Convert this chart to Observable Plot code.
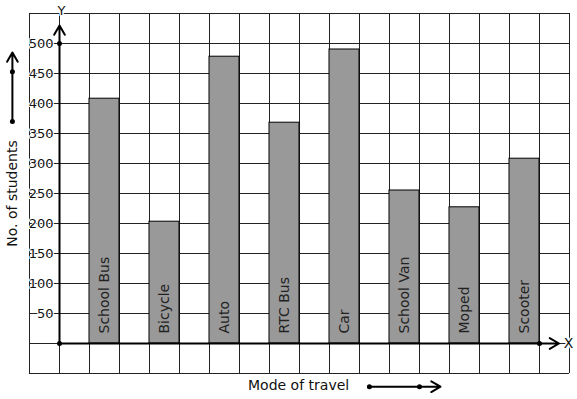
<!DOCTYPE html>
<html>
<head>
<meta charset="utf-8">
<script src="https://cdn.jsdelivr.net/npm/d3@7"></script>
<script src="https://cdn.jsdelivr.net/npm/@observablehq/plot@0.6"></script>
<style>
  html, body { margin: 0; padding: 0; background: #fff; }
  #chart svg { display: block; }
</style>
</head>
<body>
<div id="chart"></div>
<script>
const categories = ["School Bus", "Bicycle", "Auto", "RTC Bus", "Car", "School Van", "Moped", "Scooter"];
const students = [408, 203, 478, 368, 490, 255, 227, 308];
const yTicks = [50, 100, 150, 200, 250, 300, 350, 400, 450, 500];
const yTitle = "No. of students";
const xTitle = "Mode of travel";

const data = categories.map((name, i) => ({name, value: students[i], slot: 2 * i + 1}));
const gridX = d3.range(-1, 18);
const gridY = d3.range(-50, 551, 50);
const font = "DejaVu Sans, sans-serif";

const chart = Plot.plot({
  width: 577,
  height: 399,
  marginTop: 13,
  marginBottom: 26,
  marginLeft: 29,
  marginRight: 8,
  style: {fontFamily: font, background: "#fff"},
  x: {type: "linear", domain: [-1, 17], axis: null},
  y: {type: "linear", domain: [-50, 550], axis: null},
  marks: [
    Plot.ruleX(gridX, {stroke: "#222", strokeWidth: 1, strokeOpacity: 1}),
    Plot.ruleY(gridY, {stroke: "#222", strokeWidth: 1, strokeOpacity: 1}),
    Plot.rectY(data, {x1: "slot", x2: d => d.slot + 1, y: "value", fill: "#999", stroke: "#000", strokeWidth: 1}),
    Plot.text(data, {x: d => d.slot + 0.5, y: 0, text: "name", rotate: -90, textAnchor: "start", dy: -10, fontSize: 14, fill: "#222"}),
    // axes
    Plot.arrow([0], {x1: 0, y1: 0, x2: 0, y2: d3.max(yTicks) + 30, stroke: "#000", strokeWidth: 2, headLength: 8}),
    Plot.arrow([0], {x1: 0, y1: 0, x2: 2 * categories.length + 0.65, y2: 0, stroke: "#000", strokeWidth: 2, headLength: 8}),
    Plot.dot([[0, 0], [0, d3.max(yTicks)], [2 * categories.length, 0]], {x: d => d[0], y: d => d[1], r: 2.5, fill: "#000"}),
    // y tick labels
    Plot.text(yTicks, {x: 0, y: d => d, dx: -6, text: d => String(d), textAnchor: "end", fontSize: 13, fill: "#111", stroke: "#fff", strokeWidth: 2}),
    Plot.text(["Y"], {x: 0, y: 555, dx: 2, text: d => d, fontSize: 13, fill: "#111", stroke: "#fff", strokeWidth: 3}),
    Plot.text(["X"], {x: 2 * categories.length + 1, y: 0, dx: -1, text: d => d, fontSize: 14, fill: "#111", stroke: "#fff", strokeWidth: 3}),
    // y title with arrow
    Plot.text([yTitle], {x: -1.57, y: 250, text: d => d, rotate: -90, fontSize: 14, fill: "#111"}),
    Plot.arrow([0], {x1: -1.57, y1: 370, x2: -1.57, y2: 485, stroke: "#000", strokeWidth: 2, headLength: 8}),
    Plot.dot([370, 453], {x: -1.57, y: d => d, r: 2.5, fill: "#000"}),
    // x title with arrow
    Plot.text([xTitle], {x: 7.97, y: -70, text: d => d, fontSize: 14, fill: "#111"}),
    Plot.arrow([0], {x1: 10.33, y1: -72, x2: 12.7, y2: -72, stroke: "#000", strokeWidth: 2, headLength: 8}),
    Plot.dot([10.33, 12], {x: d => d, y: -72, r: 2.5, fill: "#000"})
  ]
});
document.getElementById("chart").appendChild(chart);
</script>
</body>
</html>
